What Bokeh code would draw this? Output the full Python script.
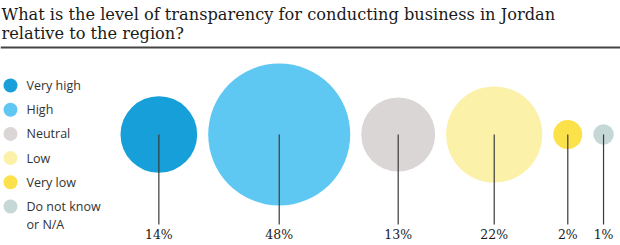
import numpy as np
from bokeh.plotting import figure
from bokeh.models import ColumnDataSource, Range1d
from bokeh.core.properties import value
from bokeh.embed import file_html
from bokeh.resources import INLINE

# ---- data ----
title_lines = ["What is the level of transparency for conducting business in Jordan",
               "relative to the region?"]
categories = ["Very high", "High", "Neutral", "Low", "Very low", "Do not know\nor N/A"]
percents = [14, 48, 13, 22, 2, 1]
colors = ["#179fd9", "#5fc8f2", "#d9d6d5", "#fbf1a9", "#fbe24b", "#c6d8d5"]
labels = [f"{v}%" for v in percents]

# ---- layout (pixel space) ----
W, H = 620, 245
k = 10.25            # radius per sqrt(percent), px
gap = 11             # gap between bubbles, px
start_x = 120
cy = 134
line_bottom = 224
label_y = 234

radii = k * np.sqrt(np.array(percents, dtype=float))
xs = []
for i, r in enumerate(radii):
    if i == 0:
        xs.append(start_x + r)
    else:
        xs.append(xs[-1] + radii[i - 1] + gap + r)

p = figure(width=W, height=H, output_backend="svg", toolbar_location=None,
           x_range=Range1d(0, W), y_range=Range1d(H, 0), min_border=0)
p.axis.visible = False
p.grid.visible = False
p.outline_line_color = None
p.background_fill_color = "white"
p.border_fill_color = "white"

# title
p.text(x=[1, 1], y=[14, 33], text=title_lines, text_font=value("DejaVu Serif"),
       text_font_size="16.2px", text_color="#1a1a1a", text_baseline="alphabetic")
# rule
p.segment(x0=[0], y0=[47], x1=[W], y1=[47], line_color="#444444", line_width=2)

# bubbles
n = len(xs)
src = ColumnDataSource(dict(x=xs, y=[cy] * n, r=radii, c=colors,
                            yb=[line_bottom] * n, ly=[label_y] * n, lab=labels))
p.circle(x="x", y="y", radius="r", radius_units="screen", fill_color="c",
         line_color=None, source=src)
p.segment(x0="x", y0="y", x1="x", y1="yb", line_color="#3a3a3a", line_width=1.2,
          source=src)
p.text(x="x", y="ly", text="lab", source=src, text_align="center",
       text_baseline="middle", text_font=value("DejaVu Serif"),
       text_font_size="12.5px", text_color="#1a1a1a")

# legend
ly = [85 + i * 24.2 for i in range(len(categories))]
p.scatter(x=[10] * len(ly), y=ly, size=14, fill_color=colors, line_color=None)
p.text(x=[26] * len(ly), y=[v - 8.5 for v in ly], text=categories, text_baseline="top",
       text_font=value("Open Sans"), text_font_size="12.5px", text_color="#333333",
       text_line_height=1.05)

open("out.html", "w").write(file_html(p, INLINE))
